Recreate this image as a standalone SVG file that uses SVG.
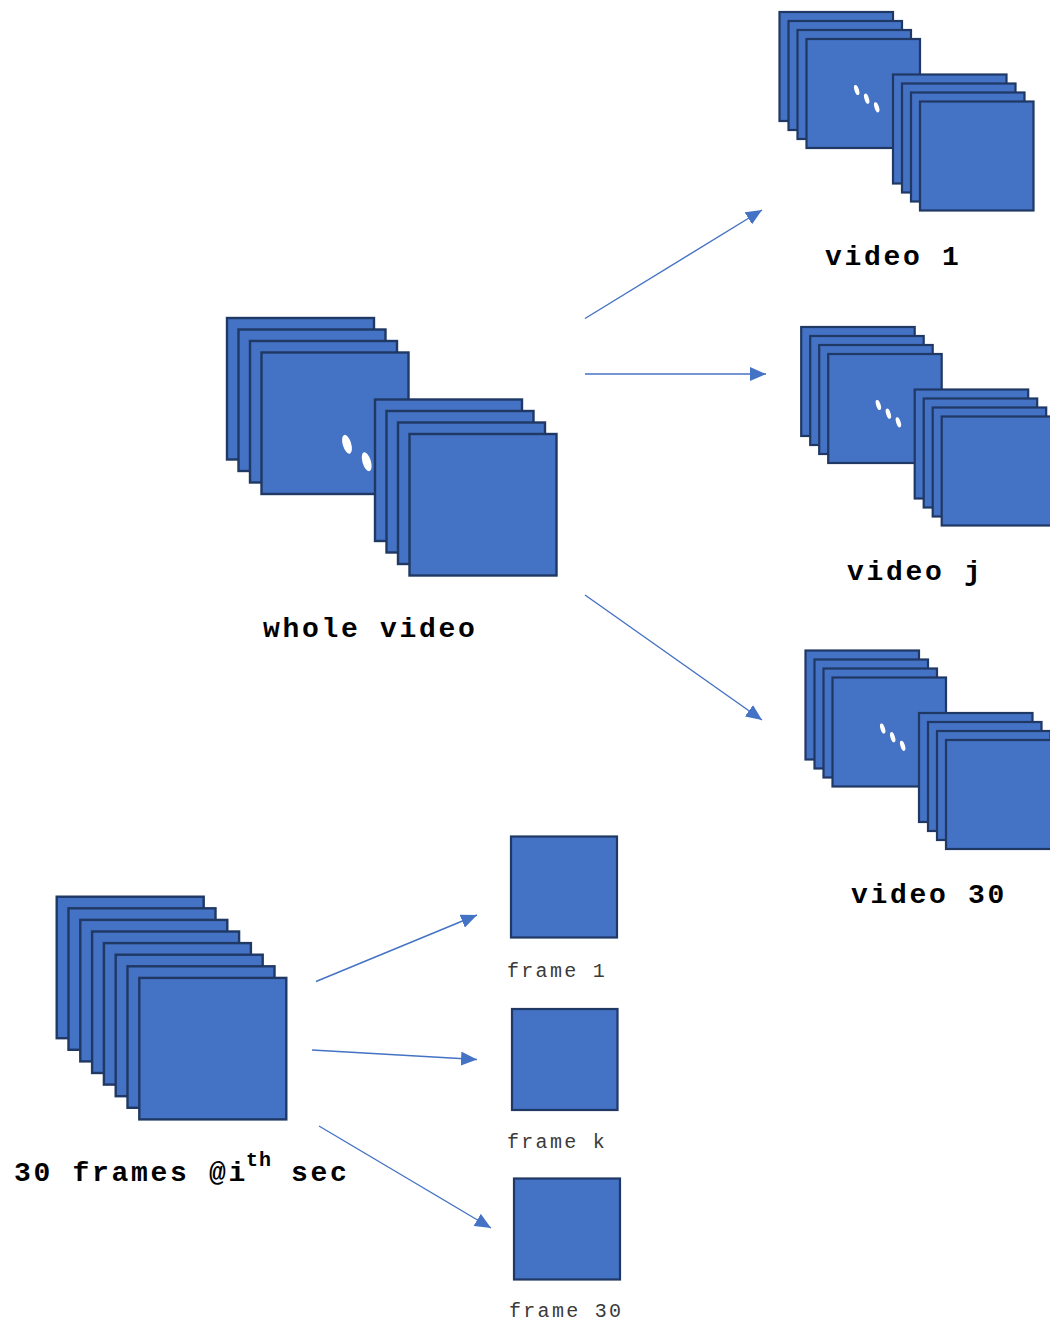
<svg xmlns="http://www.w3.org/2000/svg" xmlns:xlink="http://www.w3.org/1999/xlink" width="1050" height="1320" viewBox="0 0 1050 1320">
<style>
.f{fill:#4472C4;stroke:#1F3864;stroke-width:2.4}
.fs{fill:#4472C4;stroke:#1F3864;stroke-width:2.2}
.dot{fill:#FFFFFF}
.conn{stroke:#4472C4;stroke-width:1.4;fill:none;marker-end:url(#ah)}
.lb{font-family:"Liberation Mono","DejaVu Sans Mono",monospace;font-weight:bold;font-size:28px;letter-spacing:2.7px;fill:#000}
.lf{font-family:"Liberation Mono","DejaVu Sans Mono",monospace;font-size:20px;letter-spacing:2.3px;fill:#3a3a3a}
</style>
<defs>
<marker id="ah" markerUnits="userSpaceOnUse" markerWidth="16" markerHeight="14" refX="16" refY="7" orient="auto">
<path d="M0,0 L16,7 L0,14 Z" fill="#4472C4"/>
</marker>
<g id="smallstack">
<rect class="fs" x="779.5" y="12" width="113.5" height="109"/>
<rect class="fs" x="788.5" y="21" width="113.5" height="109"/>
<rect class="fs" x="797.5" y="30" width="113.5" height="109"/>
<rect class="fs" x="806.5" y="39" width="113.5" height="109"/>
<ellipse class="dot" cx="856.7" cy="90" rx="2.2" ry="5.3" transform="rotate(-18 856.7 90)"/>
<ellipse class="dot" cx="866.7" cy="98.7" rx="2.2" ry="5.3" transform="rotate(-18 866.7 98.7)"/>
<ellipse class="dot" cx="876.7" cy="107.3" rx="2.2" ry="5.3" transform="rotate(-18 876.7 107.3)"/>
<rect class="fs" x="893" y="74.5" width="113.5" height="109"/>
<rect class="fs" x="902" y="83.5" width="113.5" height="109"/>
<rect class="fs" x="911" y="92.5" width="113.5" height="109"/>
<rect class="fs" x="920" y="101.5" width="113.5" height="109"/>
</g>
</defs>
<rect x="0" y="0" width="1050" height="1320" fill="#FFFFFF"/>

<g id="whole-video">
<rect class="f" x="227" y="318" width="147" height="141.5"/>
<rect class="f" x="238.5" y="329.5" width="147" height="141.5"/>
<rect class="f" x="250" y="341" width="147" height="141.5"/>
<rect class="f" x="261.5" y="352.5" width="147" height="141.5"/>
<ellipse class="dot" cx="347" cy="444.3" rx="4.2" ry="9.8" transform="rotate(-17 347 444.3)"/>
<ellipse class="dot" cx="366.7" cy="461.7" rx="4.2" ry="9.8" transform="rotate(-17 366.7 461.7)"/>
<rect class="f" x="375" y="399.5" width="147" height="141.5"/>
<rect class="f" x="386.5" y="411" width="147" height="141.5"/>
<rect class="f" x="398" y="422.5" width="147" height="141.5"/>
<rect class="f" x="409.5" y="434" width="147" height="141.5"/>
<text class="lb" x="263" y="637">whole video</text>
</g>

<g id="video-1">
<use xlink:href="#smallstack"/>
<text class="lb" x="825" y="265">video 1</text>
</g>

<g id="video-j">
<use xlink:href="#smallstack" transform="translate(21.7 315)"/>
<text class="lb" x="847" y="580">video j</text>
</g>

<g id="video-30">
<use xlink:href="#smallstack" transform="translate(26 638.5)"/>
<text class="lb" x="851" y="903">video 30</text>
</g>

<g id="frames-30">
<rect class="f" x="56.7" y="896.7" width="147" height="141.5"/>
<rect class="f" x="68.5" y="908.3" width="147" height="141.5"/>
<rect class="f" x="80.3" y="919.9" width="147" height="141.5"/>
<rect class="f" x="92.1" y="931.5" width="147" height="141.5"/>
<rect class="f" x="103.9" y="943.1" width="147" height="141.5"/>
<rect class="f" x="115.7" y="954.7" width="147" height="141.5"/>
<rect class="f" x="127.5" y="966.3" width="147" height="141.5"/>
<rect class="f" x="139.3" y="977.9" width="147" height="141.5"/>
<text class="lb" x="14" y="1180.5">30 frames @i</text>
<text class="lb" x="246" y="1166" style="font-size:20px;letter-spacing:1px">th</text>
<text class="lb" x="291" y="1180.5">sec</text>
</g>

<g id="frame-1">
<rect class="fs" x="511" y="836.5" width="106" height="101"/>
<text class="lf" x="507" y="976.5">frame 1</text>
</g>

<g id="frame-k">
<rect class="fs" x="512" y="1009" width="105.5" height="101"/>
<text class="lf" x="507" y="1148">frame k</text>
</g>

<g id="frame-30">
<rect class="fs" x="514" y="1178.5" width="106" height="101"/>
<text class="lf" x="509" y="1316.5">frame 30</text>
</g>

<g id="connectors">
<line class="conn" x1="585" y1="318.5" x2="762" y2="210"/>
<line class="conn" x1="585" y1="374" x2="766" y2="374"/>
<line class="conn" x1="585" y1="595" x2="762" y2="720"/>
<line class="conn" x1="316" y1="981.5" x2="477" y2="915"/>
<line class="conn" x1="312" y1="1050" x2="477" y2="1059.5"/>
<line class="conn" x1="319" y1="1126" x2="491" y2="1228"/>
</g>
</svg>
